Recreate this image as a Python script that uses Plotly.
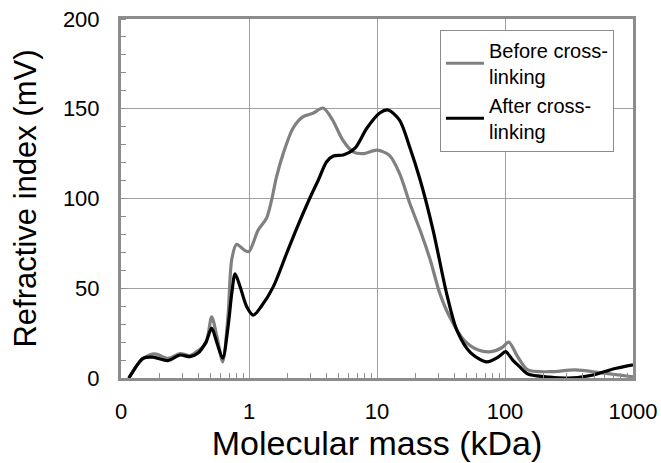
import plotly.graph_objects as go

# Data
before_x = [0.115, 0.13, 0.15, 0.184, 0.233, 0.289, 0.346, 0.40, 0.461, 0.511, 0.562, 0.623, 0.686, 0.733,
            0.80, 0.86, 0.93, 1.0, 1.18, 1.37, 1.5, 1.64, 1.85, 2.2, 2.63, 3.16, 3.8, 4.5, 5.4, 6.5, 7.8,
            10, 12.5, 15, 18, 21.8, 26, 31, 37, 48, 62, 78, 95, 107, 126, 151, 224, 353, 552, 1000]
before_y = [0, 6, 11, 13.4, 11, 13.6, 12.5, 15.2, 19.5, 34, 23, 9, 35, 66,
            74.5, 73, 71, 70.4, 82.5, 89, 99, 112, 125, 139, 145.5, 147.5, 150.4, 143.7, 132.6, 126, 125,
            127, 124, 114, 97.5, 82, 66, 47, 34, 21, 15.6, 14.7, 17, 20, 11.7, 4.5, 3.5, 4.5, 3, 0.7]

after_x = [0.115, 0.125, 0.136, 0.149, 0.178, 0.233, 0.289, 0.346, 0.40, 0.461, 0.511, 0.562, 0.623, 0.686,
           0.733, 0.778, 0.851, 0.96, 1.08, 1.25, 1.55, 1.97, 2.36, 2.9, 3.48, 4.04, 4.56, 5.46, 6.73, 8.3,
           10.5, 12.2, 15, 18, 21.8, 27.5, 35, 42, 54, 72, 90, 101, 115, 130, 151, 224, 310, 490, 700, 1000]
after_y = [0, 4, 8, 11, 11.6, 9.7, 12.8, 11.9, 13.9, 20, 27.8, 19.5, 11, 28.6,
           47, 58, 51, 39.7, 35, 40, 50.9, 69.5, 83.4, 98.2, 110.3, 120.5, 123.7, 124.2, 128, 139,
           147.6, 149.3, 143.7, 128.7, 110, 82, 47, 26.7, 14, 9, 12, 14.7, 10, 6.3, 2.2, 0.5, 0, 1.7, 5, 7.3]

x_tickvals = [0.1, 1, 10, 100, 1000]
x_ticktext = ["0", "1", "10", "100", "1000"]
x_minor = [m * 10 ** e for e in range(-1, 3) for m in range(2, 10)]
y_tickvals = [0, 50, 100, 150, 200]

FONT = "Liberation Sans, Arial, sans-serif"
GRID = "#a0a0a0"
FRAME = "#8c8c8c"

fig = go.Figure()
fig.add_trace(go.Scatter(x=before_x, y=before_y, mode="lines", name="Before cross-<br>linking",
                         line=dict(color="#808080", width=3.2, shape="spline", smoothing=0.8)))
fig.add_trace(go.Scatter(x=after_x, y=after_y, mode="lines", name="After cross-<br>linking",
                         line=dict(color="#000000", width=3.2, shape="spline", smoothing=0.8)))

fig.update_layout(
    width=661, height=463,
    margin=dict(l=121, r=28, t=19, b=85, autoexpand=False),
    paper_bgcolor="white", plot_bgcolor="white",
    font=dict(family=FONT, color="black"),
    showlegend=True,
    legend=dict(x=0.623, y=0.97, xanchor="left", yanchor="top",
                bgcolor="white", bordercolor=FRAME, borderwidth=1,
                font=dict(size=20, family=FONT), tracegroupgap=0, itemwidth=38),
)
fig.update_xaxes(
    type="log", range=[-1, 3], automargin=False,
    tickmode="array", tickvals=x_tickvals, ticktext=x_ticktext,
    tickfont=dict(size=22), ticks="", ticklabelstandoff=12,
    showgrid=True, gridcolor=GRID, gridwidth=1,
    showline=True, linecolor=FRAME, linewidth=3, mirror=True,
    minor=dict(tickvals=x_minor, ticks="inside", ticklen=5, tickcolor=FRAME, tickwidth=1, showgrid=False),
    title=dict(text="Molecular mass (kDa)", font=dict(size=34), standoff=6),
    zeroline=False,
)
fig.update_yaxes(
    range=[0, 200], automargin=False,
    tickmode="array", tickvals=y_tickvals,
    tickfont=dict(size=22), ticks="", ticklabelstandoff=14,
    showgrid=True, gridcolor=GRID, gridwidth=1,
    showline=True, linecolor=FRAME, linewidth=3, mirror=True,
    minor=dict(dtick=10, ticks="inside", ticklen=5, tickcolor=FRAME, tickwidth=1, showgrid=False),
    title=dict(text="Refractive index (mV)", font=dict(size=31), standoff=18),
    zeroline=False,
)

fig.write_html("out.html")
